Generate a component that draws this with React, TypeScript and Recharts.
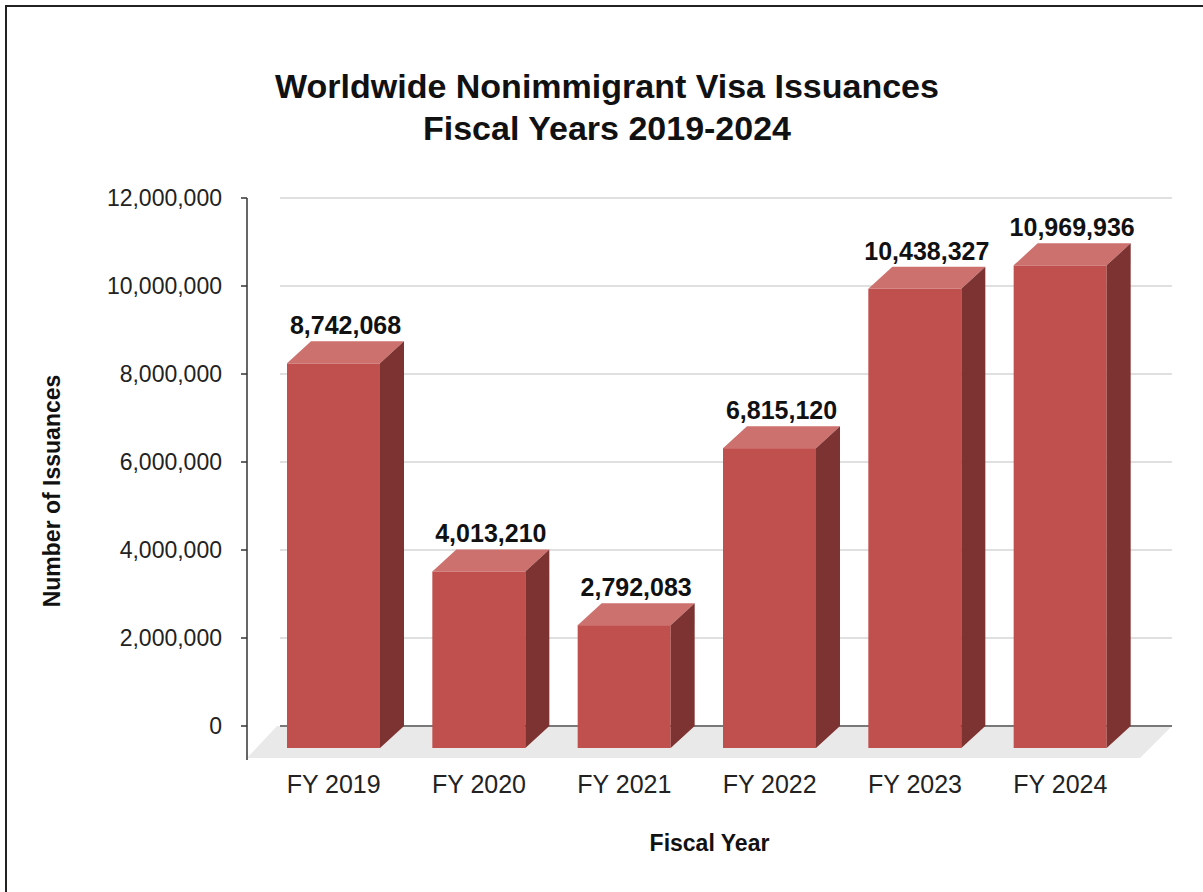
import React from "react";
import {
  BarChart,
  Bar,
  XAxis,
  YAxis,
  CartesianGrid,
  LabelList,
  ReferenceLine,
  Label
} from "recharts";

const years = ["FY 2019", "FY 2020", "FY 2021", "FY 2022", "FY 2023", "FY 2024"];
const issuances = [8742068, 4013210, 2792083, 6815120, 10438327, 10969936];
const yTicks = [0, 2000000, 4000000, 6000000, 8000000, 10000000, 12000000];

const data = years.map((year, i) => ({ year, issuances: issuances[i] }));

const FONT = "'Liberation Sans', Arial, Helvetica, sans-serif";
const DX = 24; // depth of the 3d boxes
const DY = 22;

const fmt = (v: number) => v.toLocaleString("en-US");

// front / top / side faces of each box
const Bar3D = (props: any) => {
  const { x, y, width, height } = props;
  if (height == null || width == null) return null;
  const fx = x + width - DX;
  return (
    <g>
      <rect x={x} y={y + DY} width={width - DX} height={height} fill="#c0504d" />
      <polygon
        points={`${x},${y + DY} ${x + DX},${y} ${x + width},${y} ${fx},${y + DY}`}
        fill="#cd716e"
      />
      <polygon
        points={`${fx},${y + DY} ${x + width},${y} ${x + width},${y + height} ${fx},${y + height + DY}`}
        fill="#7c3331"
      />
    </g>
  );
};

// floor under the boxes + dark zero line
const Floor = (props: any) => {
  const { x1, x2, y1 } = props;
  const y = y1;
  return (
    <g>
      <polygon
        points={`${x1 + 30},${y} ${x2},${y} ${x2 - 32},${y + 32} ${x1},${y + 32}`}
        fill="#e9e9e9"
      />
      <line x1={x1 + 33} y1={y} x2={x2} y2={y} stroke="#555" strokeWidth={1.5} />
      <line x1={x1} y1={y} x2={x1} y2={y + 34} stroke="#333" strokeWidth={1.5} />
    </g>
  );
};

export default function App() {
  return (
    <div
      style={{
        position: "absolute",
        left: 0,
        top: 0,
        width: 1203,
        height: 892,
        overflow: "hidden",
        background: "#fff",
        fontFamily: FONT
      }}
    >
      <div
        style={{
          position: "absolute",
          left: 5,
          top: 5,
          width: 1300,
          height: 1000,
          border: "2px solid #222"
        }}
      />
      <div
        style={{
          position: "absolute",
          left: 0,
          top: 65,
          width: 1214,
          textAlign: "center",
          fontSize: 34,
          fontWeight: "bold",
          lineHeight: "42px",
          color: "#111"
        }}
      >
        Worldwide Nonimmigrant Visa Issuances
        <br />
        Fiscal Years 2019-2024
      </div>
      <div style={{ position: "absolute", left: 0, top: 0 }}>
        <BarChart
          width={1203}
          height={892}
          data={data}
          margin={{ top: 198, right: 31, bottom: 106, left: 0 }}
        >
          <CartesianGrid
            vertical={false}
            x={280}
            width={892}
            stroke="#d6d6d6"
            strokeWidth={1.5}
          />
          <XAxis
            dataKey="year"
            axisLine={false}
            tickLine={false}
            tickSize={0}
            tickMargin={49}
            height={60}
            interval={0}
            padding={{ left: 26, right: 27 }}
            tick={{ fontSize: 25, fill: "#222", fontFamily: FONT, dx: -12 }}
          >
            <Label
              content={(p: any) => {
                const vb = p.viewBox;
                return (
                  <text
                    x={vb.x + vb.width / 2}
                    y={vb.y + 125}
                    textAnchor="middle"
                    fontSize={23}
                    fontWeight="bold"
                    fontFamily={FONT}
                    fill="#111"
                  >
                    Fiscal Year
                  </text>
                );
              }}
            />
          </XAxis>
          <YAxis
            width={247}
            domain={[0, 12000000]}
            ticks={yTicks}
            tickFormatter={fmt}
            axisLine={{ stroke: "#333", strokeWidth: 1.5 }}
            tickLine={{ stroke: "#333", strokeWidth: 1.5 }}
            tickSize={6}
            tickMargin={19}
            tick={{ fontSize: 23, fill: "#222", fontFamily: FONT }}
          >
            <Label
              content={(p: any) => {
                const vb = p.viewBox;
                const cx = vb.x + 52;
                const cy = vb.y + vb.height / 2 + 29;
                return (
                  <text
                    x={cx}
                    y={cy}
                    transform={`rotate(-90, ${cx}, ${cy})`}
                    textAnchor="middle"
                    dominantBaseline="central"
                    fontSize={23}
                    fontWeight="bold"
                    fontFamily={FONT}
                    fill="#111"
                  >
                    Number of Issuances
                  </text>
                );
              }}
            />
          </YAxis>
          <ReferenceLine y={0} shape={Floor} zIndex={-10} />
          <Bar
            dataKey="issuances"
            barSize={117}
            fill="#c0504d"
            shape={Bar3D}
            isAnimationActive={false}
          >
            <LabelList
              dataKey="issuances"
              position="top"
              offset={7}
              formatter={fmt}
              style={{
                fontSize: 25,
                fontWeight: "bold",
                fill: "#111",
                fontFamily: FONT
              }}
            />
          </Bar>
        </BarChart>
      </div>
    </div>
  );
}
